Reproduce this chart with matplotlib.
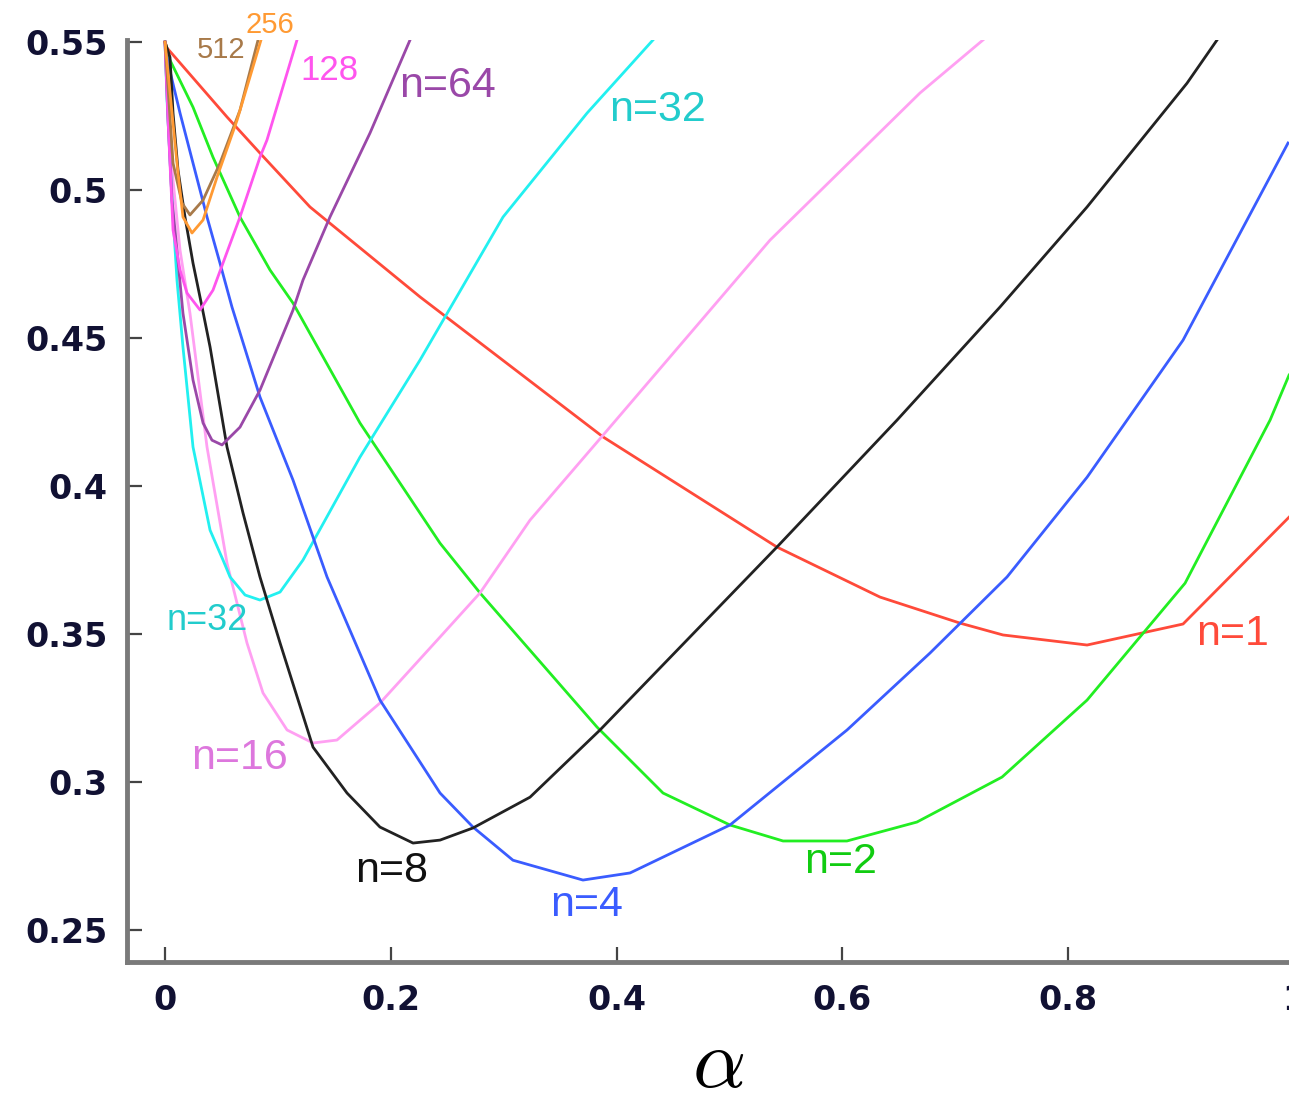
import matplotlib
matplotlib.use("Agg")
import matplotlib.pyplot as plt

# curves: alpha values and the plotted quantity for each n
a_n1 = [0, 0.0018, 0.0549, 0.0841, 0.1284, 0.2259, 0.388, 0.542, 0.6333, 0.7042, 0.7422, 0.8167, 0.9017, 0.9956]
v_n1 = [0.55, 0.548, 0.5247, 0.5125, 0.4943, 0.4639, 0.4166, 0.3794, 0.3625, 0.3537, 0.3497, 0.3463, 0.3534, 0.3895]

a_n2 = [0, 0.0044, 0.0248, 0.0425, 0.0664, 0.093, 0.1134, 0.1727, 0.2436, 0.279, 0.3826, 0.4411, 0.5004,
        0.5474, 0.604, 0.666, 0.7414, 0.8167, 0.9035, 0.9788, 0.9956]
v_n2 = [0.55, 0.5439, 0.528, 0.5111, 0.4909, 0.473, 0.4618, 0.4213, 0.3807, 0.3639, 0.3186, 0.2963, 0.2855,
        0.2801, 0.2801, 0.2865, 0.3017, 0.3277, 0.3672, 0.4223, 0.4375]

a_n4 = [0, 0.0027, 0.0133, 0.0248, 0.0372, 0.0487, 0.0593, 0.0841, 0.1134, 0.1435, 0.1904, 0.2436,
        0.2728, 0.3082, 0.3702, 0.4119, 0.5004, 0.6041, 0.6776, 0.7458, 0.8167, 0.9017, 0.9947]
v_n4 = [0.55, 0.5429, 0.526, 0.5091, 0.4909, 0.4753, 0.4605, 0.4301, 0.402, 0.3693, 0.3277, 0.2963,
        0.2848, 0.2736, 0.2669, 0.2693, 0.2855, 0.3176, 0.3436, 0.3693, 0.403, 0.4493, 0.5159]

a_n8 = [0, 0.0044, 0.0071, 0.0115, 0.0177, 0.0248, 0.0328, 0.0399, 0.0549, 0.0691, 0.0841, 0.1019,
        0.1311, 0.1612, 0.1904, 0.2197, 0.2436, 0.2728, 0.3233, 0.3853, 0.542, 0.6484, 0.7396,
        0.8167, 0.9052, 0.9318]
v_n8 = [0.55, 0.5449, 0.526, 0.5068, 0.4909, 0.4753, 0.4605, 0.447, 0.4132, 0.3909, 0.3693, 0.347,
        0.3118, 0.2963, 0.2848, 0.2794, 0.2804, 0.2845, 0.2949, 0.3176, 0.3794, 0.4223, 0.4605,
        0.4943, 0.5361, 0.5507]

a_n16 = [0, 0.0027, 0.0071, 0.0133, 0.0221, 0.0372, 0.0549, 0.0726, 0.0868, 0.1081, 0.1311, 0.1523,
         0.1904, 0.2436, 0.279, 0.3233, 0.388, 0.5359, 0.6687, 0.7245]
v_n16 = [0.55, 0.5304, 0.5034, 0.4797, 0.4584, 0.4132, 0.374, 0.347, 0.3301, 0.3176, 0.3132, 0.3142,
         0.3267, 0.349, 0.3639, 0.3885, 0.4172, 0.4831, 0.5328, 0.5507]

a_n32 = [0, 0.0018, 0.0062, 0.0106, 0.0159, 0.0248, 0.0399, 0.0514, 0.0576, 0.0709, 0.0841, 0.1019,
         0.1222, 0.1727, 0.2259, 0.2994, 0.3738, 0.4322]
v_n32 = [0.55, 0.5304, 0.4966, 0.4696, 0.447, 0.4132, 0.3851, 0.375, 0.3693, 0.3632, 0.3615, 0.3642,
         0.375, 0.4098, 0.4426, 0.4909, 0.526, 0.5507]

a_n64 = [0, 0.0027, 0.0062, 0.0106, 0.0159, 0.0248, 0.0337, 0.0416, 0.0505, 0.0664, 0.0841, 0.1134,
         0.1222, 0.1461, 0.1816, 0.217]
v_n64 = [0.55, 0.5236, 0.4966, 0.4797, 0.4584, 0.4358, 0.4213, 0.4155, 0.4139, 0.4199, 0.4324, 0.4595,
         0.4696, 0.4909, 0.5193, 0.5507]

a_n128 = [0, 0.0027, 0.0071, 0.0133, 0.0195, 0.031, 0.0425, 0.0664, 0.0841, 0.0903, 0.1169]
v_n128 = [0.55, 0.5236, 0.4865, 0.4730, 0.4652, 0.4595, 0.4662, 0.4909, 0.5111, 0.5169, 0.5507]

a_n256 = [0, 0.0106, 0.0159, 0.0239, 0.0337, 0.0461, 0.0638, 0.085]
v_n256 = [0.55, 0.5091, 0.4909, 0.4855, 0.4899, 0.5044, 0.5236, 0.5507]

a_n512 = [0, 0.0071, 0.0151, 0.0221, 0.0337, 0.0487, 0.0664, 0.0824]
v_n512 = [0.55, 0.5091, 0.4956, 0.4916, 0.4966, 0.5091, 0.527, 0.5507]

curves = [
    (a_n1, v_n1, "#ff4a3a"),
    (a_n2, v_n2, "#22ee22"),
    (a_n16, v_n16, "#ffa0f2"),
    (a_n32, v_n32, "#22f0f0"),
    (a_n4, v_n4, "#3a5cff"),
    (a_n8, v_n8, "#222222"),
    (a_n64, v_n64, "#9a48a8"),
    (a_n128, v_n128, "#ff55ee"),
    (a_n512, v_n512, "#a87a4a"),
    (a_n256, v_n256, "#ff9a33"),
]

# curve labels: text, alpha, value, colour, size
labels = [
    ("n=1", 0.946, 0.350, "#ff4a3a", 31),
    ("n=2", 0.598, 0.273, "#11cc11", 31),
    ("n=4", 0.373, 0.2584, "#3a5cff", 31),
    ("n=8", 0.201, 0.270, "#111111", 31),
    ("n=16", 0.0664, 0.3081, "#dd77dd", 31),
    ("n=32", 0.0372, 0.3547, "#22cccc", 26),
    ("n=32", 0.4358, 0.527, "#22cccc", 31),
    ("n=64", 0.2498, 0.5351, "#9a48a8", 31),
    ("128", 0.1453, 0.5405, "#ff55ee", 25),
    ("512", 0.0496, 0.5473, "#a87a4a", 21),
    ("256", 0.093, 0.5557, "#ff9a33", 21),
]

fig = plt.figure(figsize=(12.89, 11.02), dpi=100)
ax = fig.add_axes([0.0985, 0.127, 0.9054, 0.8367])

for a, v, c in curves:
    ax.plot(a, v, color=c, lw=2.0, solid_joinstyle="round")

for txt, x, y, c, fs in labels:
    ax.text(x, y, txt, color=c, fontsize=fs, ha="center", va="center",
            family="Liberation Sans", clip_on=False)

ax.set_xlim(-0.0337, 1.0)
ax.set_ylim(0.2392, 0.5507)
ax.set_xticks([0, 0.2, 0.4, 0.6, 0.8, 1])
ax.set_xticklabels(["0", "0.2", "0.4", "0.6", "0.8", "1"])
ax.set_yticks([0.25, 0.3, 0.35, 0.4, 0.45, 0.5, 0.55])
ax.set_yticklabels(["0.25", "0.3", "0.35", "0.4", "0.45", "0.5", "0.55"])

for side in ["top", "right"]:
    ax.spines[side].set_visible(False)
for side in ["left", "bottom"]:
    ax.spines[side].set_color("#7a7a7a")
    ax.spines[side].set_linewidth(3.5)

ax.tick_params(axis="both", direction="in", length=11, width=1.6, color="#444444",
               labelsize=24)
ax.tick_params(axis="y", pad=14)
ax.tick_params(axis="x", pad=16)
for t in ax.get_xticklabels() + ax.get_yticklabels():
    t.set_fontweight("bold")
    t.set_color("#111133")

plt.rcParams["mathtext.fontset"] = "cm"
fig.text(0.557, 0.014, r"$\alpha$", fontsize=60, ha="center", va="baseline")

fig.savefig("out.png", dpi=100)
